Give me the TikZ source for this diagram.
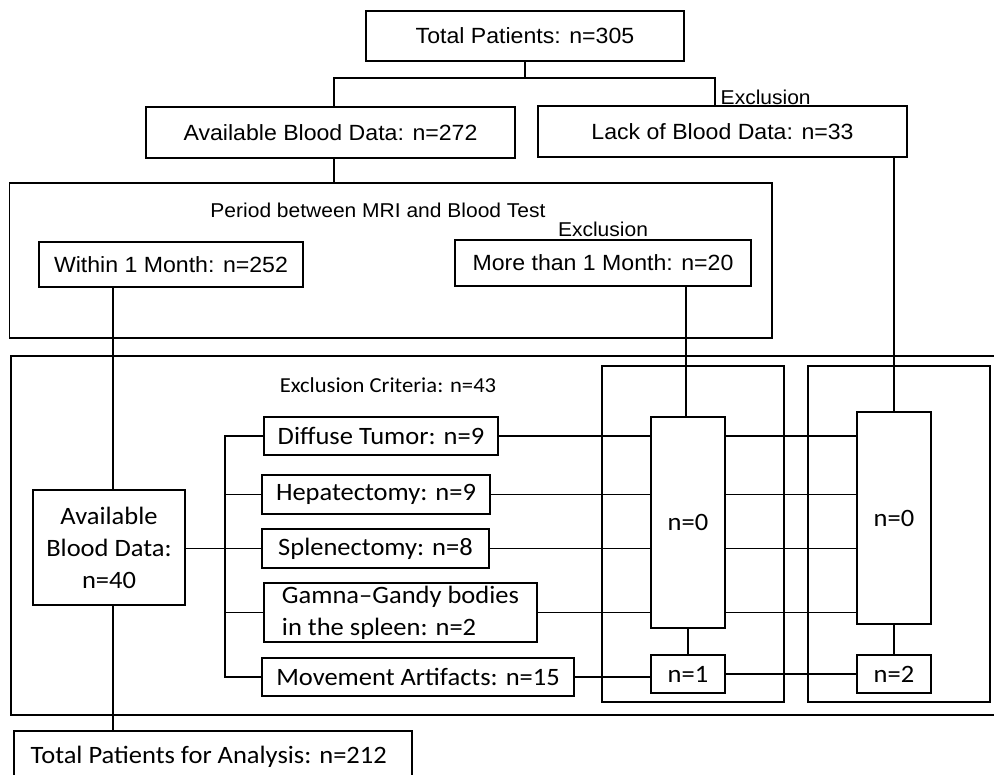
\documentclass[tikz,border=0pt]{standalone}
\usepackage{fontspec}
\newfontfamily\arialf{Liberation Sans}[FakeStretch=1.05]
\newfontfamily\calf{Carlito}[FakeStretch=1.06]
\newcommand{\pxs}{0.75pt}
\tikzset{
  box/.style={draw, rectangle, inner sep=0pt, outer sep=0pt},
  abox/.style={box, font=\arialf\fontsize{16.5pt}{19pt}\selectfont},
  cbox/.style={box, font=\calf\fontsize{18.75pt}{24pt}\selectfont},
  atext/.style={inner sep=0pt, font=\arialf\fontsize{15pt}{17pt}\selectfont},
  conn/.style={line width=0.9pt}}
\begin{document}
\begin{tikzpicture}[x=0.75pt,y=-0.75pt, line width=1.1pt]
\useasboundingbox (0,0) rectangle (994,774);
\fill[white] (0,0) rectangle (994,774);

% top level
\node[abox, minimum width=318*\pxs, minimum height=50*\pxs] (tot) at (525,36) {Total Patients: n=305};
\node[abox, minimum width=369*\pxs, minimum height=51*\pxs] (avail) at (330.5,132.5) {Available Blood Data: n=272};
\node[abox, minimum width=369*\pxs, minimum height=51*\pxs] (lack) at (722.5,131.5) {Lack of Blood Data: n=33};
\node[atext, anchor=west] (exc1) at (720,97) {Exclusion};

% period box
\node[box, minimum width=762.5*\pxs, minimum height=155*\pxs] (period) at (390.75,260.5) {};
\node[atext] (ptitle) at (378,210) {Period between MRI and Blood Test};
\node[atext] (exc2) at (603,229) {Exclusion};
\node[abox, minimum width=264*\pxs, minimum height=45*\pxs] (within) at (171,264.5) {Within 1 Month: n=252};
\node[abox, minimum width=296*\pxs, minimum height=46*\pxs] (more) at (603,263) {More than 1 Month: n=20};

% exclusion criteria big box
\node[box, minimum width=999*\pxs, minimum height=359*\pxs] (crit) at (510.5,535.5) {};
\node[inner sep=0pt, font=\calf\fontsize{16pt}{19pt}\selectfont] (ctitle) at (388,385) {Exclusion Criteria: n=43};
\node[box, minimum width=182*\pxs, minimum height=336*\pxs] (col1) at (693,534) {};
\node[box, minimum width=182*\pxs, minimum height=336*\pxs] (col2) at (899,534) {};

\node[cbox, minimum width=152*\pxs, minimum height=115*\pxs, align=center] (a40) at (109,547.5) {Available\\Blood Data:\\n=40};
\node[cbox, minimum width=234*\pxs, minimum height=38*\pxs] (dt) at (381,436) {Diffuse Tumor: n=9};
\node[cbox, minimum width=228*\pxs, minimum height=39*\pxs] (hep) at (376,494.5) {Hepatectomy: n=9};
\node[cbox, minimum width=227*\pxs, minimum height=39*\pxs] (spl) at (375.5,548.5) {Splenectomy: n=8};
\node[cbox, minimum width=273*\pxs, minimum height=59*\pxs, align=left] (gam) at (400.5,612.5) {Gamna–Gandy bodies\\in the spleen: n=2};
\node[cbox, minimum width=312*\pxs, minimum height=38*\pxs] (mov) at (418,677) {Movement Artifacts: n=15};

\node[cbox, minimum width=74*\pxs, minimum height=211*\pxs] (z1) at (688,522.5) {n=0};
\node[cbox, minimum width=74*\pxs, minimum height=212*\pxs] (z2) at (894,518) {n=0};
\node[cbox, minimum width=74*\pxs, minimum height=38*\pxs] (o1) at (688,674) {n=1};
\node[cbox, minimum width=74*\pxs, minimum height=38*\pxs] (o2) at (894,674) {n=2};

% final
\node[box, minimum width=398*\pxs, minimum height=70*\pxs] (tpa) at (213,766) {};
\node[inner sep=0pt, anchor=base west, font=\calf\fontsize{18.75pt}{24pt}\selectfont] (tpatext) at (30,763) {Total Patients for Analysis: n=212};

% helper coordinates
\coordinate (bl) at (334,78);
\coordinate (br) at (715,78);
\coordinate (xw) at (113,0);
\coordinate (xm) at (686,0);
\coordinate (xl) at (894,0);
\coordinate (bx) at (225,0);

% connectors top
\draw (tot.south) -- (tot.south |- bl);
\draw (avail.north -| bl) -- (bl) -- (br) -- (lack.north -| br);
\draw (avail.south -| bl) -- (period.north -| bl);
\draw (within.south -| xw) -- (a40.north -| xw);
\draw (a40.south -| xw) -- (tpa.north -| xw);
\draw (more.south -| xm) -- (z1.north -| xm);
\draw (lack.south -| xl) -- (z2.north -| xl);
\draw (z1.south) -- (o1.north);
\draw (z2.south) -- (o2.north);

% bracket
\draw[conn] (a40.east |- spl.west) -- (spl.west);
\draw[conn] (dt.west) -- (dt.west -| bx) -- (mov.west -| bx) -- (mov.west);
\draw[conn] (hep.west -| bx) -- (hep.west);
\draw[conn] (gam.west -| bx) -- (gam.west);

% horizontal rows
\draw[conn] (dt.east) -- (dt.east -| z1.west);
\draw[conn] (z1.east |- dt.east) -- (z2.west |- dt.east);
\draw[conn] (hep.east) -- (hep.east -| z1.west);
\draw[conn] (z1.east |- hep.east) -- (z2.west |- hep.east);
\draw[conn] (spl.east) -- (spl.east -| z1.west);
\draw[conn] (z1.east |- spl.east) -- (z2.west |- spl.east);
\draw[conn] (gam.east) -- (gam.east -| z1.west);
\draw[conn] (z1.east |- gam.east) -- (z2.west |- gam.east);
\draw[conn] (mov.east) -- (mov.east -| o1.west);
\draw[conn] (o1.east) -- (o2.west);
\end{tikzpicture}
\end{document}
